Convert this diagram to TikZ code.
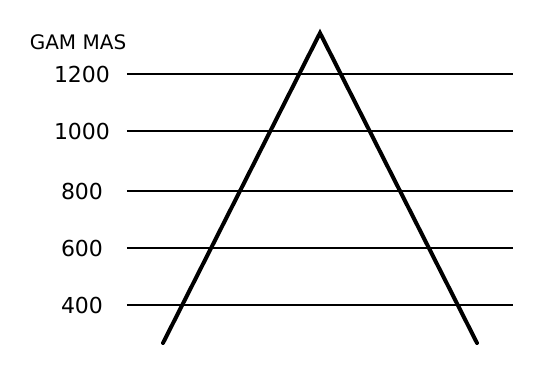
\documentclass[tikz,border=0pt]{standalone}
\usepackage{fontspec}
\setmainfont{DejaVu Sans}
\usetikzlibrary{positioning}

\begin{document}
\begin{tikzpicture}[
    x=0.5pt, y=0.5pt,
    every node/.style={font=\fontsize{11}{13}\selectfont, inner sep=0pt},
    level/.style={line width=1.2pt},
    leg/.style={line width=2pt, line cap=round}
  ]
    \useasboundingbox (0,0) rectangle (548,365);

    \node[font=\fontsize{10}{12}\selectfont] (unit) at (78,323) {GAM MAS};

    % value lines with their labels
    \foreach \val/\yy in {1200/291, 1000/234, 800/174, 600/117, 400/60} {
      \node (lab\val) at (82,\yy) {\val};
      \coordinate (l\val) at (127,\yy);
      \coordinate (r\val) at (513,\yy);
      \draw[level] (l\val) -- (r\val);
    }

    \coordinate (apex) at (320,332);
    \coordinate (lfoot) at (163,22);
    \coordinate (rfoot) at (477,22);
    \draw[leg] (lfoot) -- (apex) -- (rfoot);
  \end{tikzpicture}
\end{document}
